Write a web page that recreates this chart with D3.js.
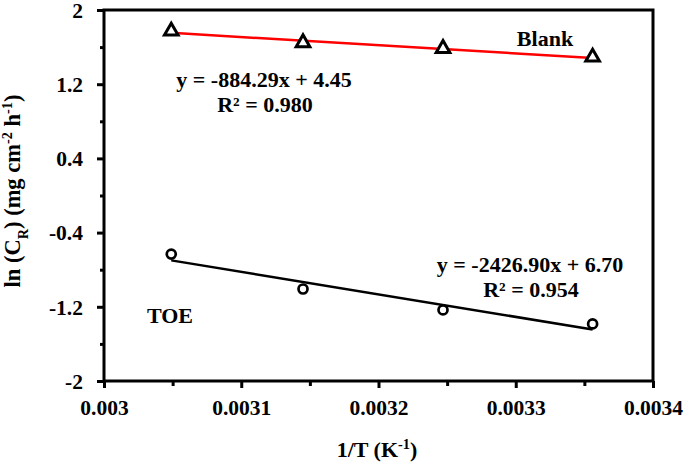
<!DOCTYPE html>
<html>
<head>
<meta charset="utf-8">
<script src="https://cdn.jsdelivr.net/npm/d3@7"></script>
<style>
  html, body { margin: 0; padding: 0; background: #fff; }
  svg { display: block; }
  text { font-family: "Liberation Serif", "Times New Roman", serif; font-weight: bold; fill: #000; }
</style>
</head>
<body>
<svg id="chart" width="685" height="464"></svg>
<script>
// ---- data ----
const xTickValues = [0.003, 0.0031, 0.0032, 0.0033, 0.0034];
const xTickLabels = ["0.003", "0.0031", "0.0032", "0.0033", "0.0034"];
const yTickValues = [-2, -1.2, -0.4, 0.4, 1.2, 2];
const yTickLabels = ["-2", "-1.2", "-0.4", "0.4", "1.2", "2"];
const invT = [0.003049, 0.003145, 0.003247, 0.003356];
const blankLnCR = [1.784, 1.658, 1.596, 1.502];
const toeLnCR = [-0.631, -1.008, -1.234, -1.385];
const seriesNames = ["Blank", "TOE"];
const fitSlopes = [-884.29, -2426.90];
const fitIntercepts = [4.45, 6.70];
const fitEquations = ["y = -884.29x + 4.45", "y = -2426.90x + 6.70"];
const fitR2 = ["R\u00B2 = 0.980", "R\u00B2 = 0.954"];

// ---- layout ----
const FS = 22, TFS = 21.5;
const svg = d3.select("#chart");
const mL = 104, mR = 653, mT = 10, mB = 381;
const x = d3.scaleLinear().domain([0.003, 0.0034]).range([mL, mR]);
const y = d3.scaleLinear().domain([-2, 2]).range([mB, mT]);

// minor ticks
const xMinor = d3.range(0, xTickValues.length - 1).map(i => (xTickValues[i] + xTickValues[i + 1]) / 2);
const yMinor = d3.range(0, yTickValues.length - 1).map(i => (yTickValues[i] + yTickValues[i + 1]) / 2);

svg.append("g").attr("transform", `translate(0,${mB})`)
  .call(d3.axisBottom(x).tickValues(xMinor).tickSize(5).tickSizeOuter(0).tickFormat(""))
  .call(g => g.select(".domain").remove())
  .call(g => g.selectAll("line").attr("stroke", "#000").attr("stroke-width", 3));
svg.append("g").attr("transform", `translate(${mL},0)`)
  .call(d3.axisLeft(y).tickValues(yMinor).tickSize(4).tickSizeOuter(0).tickFormat(""))
  .call(g => g.select(".domain").remove())
  .call(g => g.selectAll("line").attr("stroke", "#000").attr("stroke-width", 3));

const xAxis = svg.append("g").attr("transform", `translate(0,${mB})`)
  .call(d3.axisBottom(x).tickValues(xTickValues).tickSize(7).tickSizeOuter(0).tickPadding(12)
    .tickFormat((d, i) => xTickLabels[i]));
xAxis.select(".domain").remove();
xAxis.selectAll("line").attr("stroke", "#000").attr("stroke-width", 3);
xAxis.selectAll("text").attr("font-size", TFS).attr("font-family", null).attr("fill", "#000");

const yAxis = svg.append("g").attr("transform", `translate(${mL},0)`)
  .call(d3.axisLeft(y).tickValues(yTickValues).tickSize(7).tickSizeOuter(0).tickPadding(14)
    .tickFormat((d, i) => yTickLabels[i]));
yAxis.select(".domain").remove();
yAxis.selectAll("line").attr("stroke", "#000").attr("stroke-width", 3);
yAxis.selectAll("text").attr("font-size", TFS).attr("font-family", null).attr("fill", "#000")
  .attr("dy", "0.34em");

// frame
svg.append("rect").attr("x", mL).attr("y", mT)
  .attr("width", mR - mL).attr("height", mB - mT)
  .attr("fill", "none").attr("stroke", "#000").attr("stroke-width", 3);

// trend lines
const lineColors = ["#ff0000", "#000000"];
fitSlopes.forEach((m, i) => {
  const x0 = invT[0], x1 = invT[invT.length - 1];
  svg.append("line")
    .attr("x1", x(x0)).attr("y1", y(m * x0 + fitIntercepts[i]))
    .attr("x2", x(x1)).attr("y2", y(m * x1 + fitIntercepts[i]))
    .attr("stroke", lineColors[i]).attr("stroke-width", 2.5);
});

// markers
const tri = d3.symbol().type(d3.symbolTriangle).size(80);
svg.append("g").selectAll("path").data(invT.map((v, i) => [v, blankLnCR[i]])).join("path")
  .attr("d", tri)
  .attr("transform", d => `translate(${x(d[0])},${y(d[1]) + 1})`)
  .attr("fill", "#fff").attr("stroke", "#000").attr("stroke-width", 3);
svg.append("g").selectAll("circle").data(invT.map((v, i) => [v, toeLnCR[i]])).join("circle")
  .attr("cx", d => x(d[0])).attr("cy", d => y(d[1])).attr("r", 4.5)
  .attr("fill", "#fff").attr("stroke", "#000").attr("stroke-width", 2.7);

// annotations
function label(tx, ty, str) {
  svg.append("text").attr("x", tx).attr("y", ty).attr("text-anchor", "middle")
    .attr("font-size", FS).text(str);
}
label(545, 46, seriesNames[0]);
label(170, 323, seriesNames[1]);
label(264, 87, fitEquations[0]);
label(265, 112, fitR2[0]);
label(530, 272, fitEquations[1]);
label(531, 297, fitR2[1]);

// axis titles
const xt = svg.append("text").attr("x", 377).attr("y", 457).attr("text-anchor", "middle").attr("font-size", FS);
xt.append("tspan").text("1/T (K");
xt.append("tspan").attr("font-size", FS * 0.65).attr("baseline-shift", "super").text("-1");
xt.append("tspan").text(")");

const yt = svg.append("text").attr("transform", "translate(20,191) rotate(-90)")
  .attr("text-anchor", "middle").attr("font-size", FS + 0.5);
yt.append("tspan").text("ln (C");
yt.append("tspan").attr("font-size", FS * 0.65).attr("baseline-shift", "sub").text("R");
yt.append("tspan").text(") (mg cm");
yt.append("tspan").attr("font-size", FS * 0.65).attr("baseline-shift", "super").text("-2");
yt.append("tspan").text(" h");
yt.append("tspan").attr("font-size", FS * 0.65).attr("baseline-shift", "super").text("-1");
yt.append("tspan").text(")");
</script>
</body>
</html>
